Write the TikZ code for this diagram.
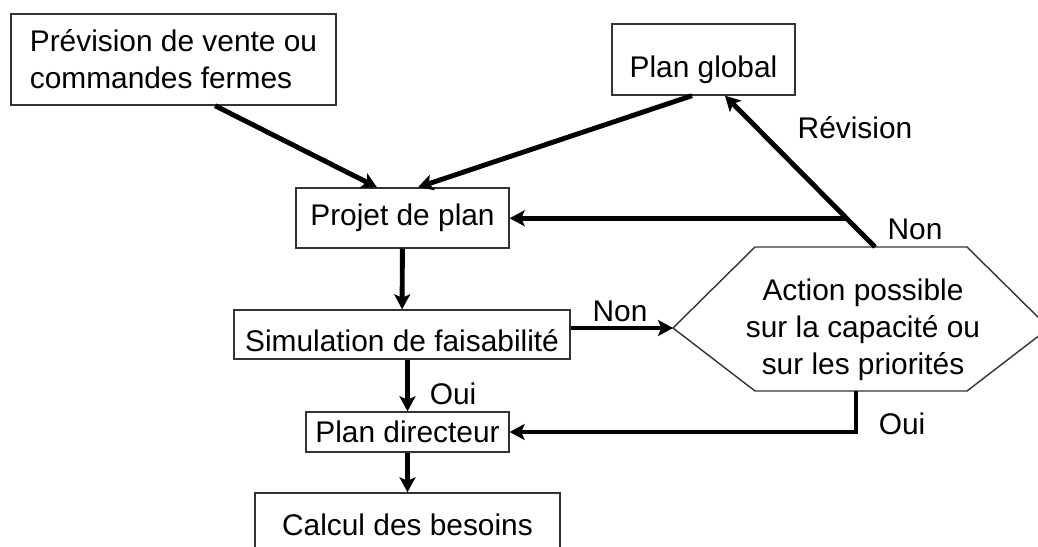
\documentclass[tikz,border=0pt]{standalone}
\usepackage{fontspec}
\setmainfont{Liberation Sans}
\usepackage{tikz}
\usetikzlibrary{arrows.meta}

\begin{document}
\begin{tikzpicture}[x=0.02cm,y=-0.02cm,>={Stealth[length=0.3cm,width=0.32cm,inset=0.07cm]},
  font=\fontsize{17}{21}\selectfont,
  box/.style={draw=black!80,line width=0.8pt,inner sep=2pt},
  flow/.style={->,line width=2.8pt}]
\useasboundingbox (0,0) rectangle (1038,547);
% boxes
\node[box,align=left,minimum width=6.5cm,minimum height=1.82cm] (prev) at (173.5,59.5) {Prévision de vente ou\\commandes fermes};
\node[box,minimum width=3.66cm,minimum height=1.42cm,text height=0.74cm,text depth=0pt] (glob) at (703.5,59.5) {Plan global};
\node[box,minimum width=4.26cm,minimum height=1.2cm] (proj) at (402.5,218) {Projet de plan};
\node[box,minimum width=6.72cm,minimum height=0.98cm,text height=0.7cm,text depth=0pt] (sim) at (402,334.5) {Simulation de faisabilité};
\node[box,minimum width=4.06cm,minimum height=0.8cm] (dir) at (407.5,432) {Plan directeur};
\node[box,minimum width=6.1cm,minimum height=1.28cm] (calc) at (407.5,525) {Calcul des besoins};
% hexagon
\draw[box] (673,328) coordinate (hexW) -- (755,247) -- (967,247) -- (1049,328) -- (967,391) -- (755,391) -- cycle;
\coordinate (hexN) at (875,247);
\coordinate (hexS) at (856,391);
\node[align=center] (act) at (863,330) {Action possible\\sur la capacité ou\\sur les priorités};
% arrows
\draw[flow] ([xshift=0.83cm]prev.south) -- ([xshift=-0.51cm]proj.north);
\draw[flow] ([xshift=-0.23cm]glob.south) -- ([xshift=0.31cm]proj.north);
\draw[flow] (hexN) -- coordinate[pos=0.19] (rev) ([xshift=0.43cm]glob.south);
\draw[flow] (rev) -- (rev -| proj.east);
\draw[flow] (proj) -- (sim);
\draw[flow] (hexW -| sim.east) -- (hexW);
\draw[flow] (sim.south -| dir.north) -- (dir.north);
\draw[flow,line join=miter] (hexS) |- (dir.east);
\draw[flow] (dir) -- (calc);
% labels
\node (lrev) at (855,128) {Révision};
\node (lnon1) at (915,229) {Non};
\node (lnon2) at (620,311) {Non};
\node (loui1) at (453,394) {Oui};
\node (loui2) at (902,424) {Oui};
\end{tikzpicture}
\end{document}
